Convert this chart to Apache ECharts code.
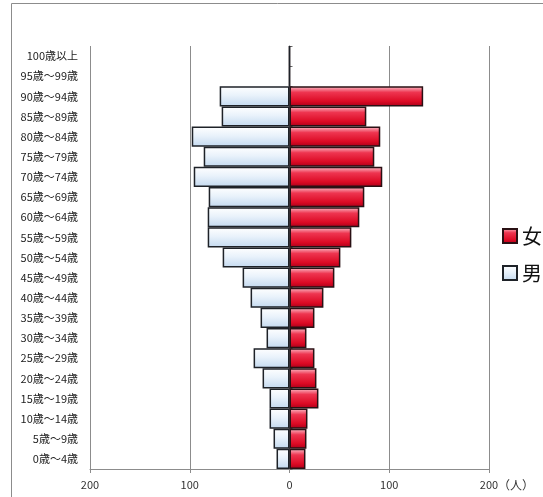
<!DOCTYPE html>
<html>
<head>
<meta charset="utf-8">
<script src="https://cdn.jsdelivr.net/npm/echarts@6/dist/echarts.min.js"></script>
<style>
  html, body { margin: 0; padding: 0; background: #fff; }
  #chart { width: 543px; height: 497px; }
</style>
</head>
<body>
<div id="chart"></div>
<script>
const ageGroups = [
  "0歳～4歳", "5歳～9歳", "10歳～14歳", "15歳～19歳", "20歳～24歳",
  "25歳～29歳", "30歳～34歳", "35歳～39歳", "40歳～44歳", "45歳～49歳",
  "50歳～54歳", "55歳～59歳", "60歳～64歳", "65歳～69歳", "70歳～74歳",
  "75歳～79歳", "80歳～84歳", "85歳～89歳", "90歳～94歳", "95歳～99歳",
  "100歳以上",
];
const male = [13, 16, 20, 20, 27, 36, 23, 29, 39, 47, 67, 82, 82, 81, 96, 86, 98, 68, 70, 0, 0];
const female = [16, 17, 18, 29, 27, 25, 17, 25, 34, 45, 51, 62, 70, 75, 93, 85, 91, 77, 134, 0, 0];
const xTicks = [-200, -100, 0, 100, 200];

const font = '"Noto Sans CJK JP", "Noto Sans", sans-serif';
const chart = echarts.init(document.getElementById("chart"));

const maleFill = new echarts.graphic.LinearGradient(0, 0, 0, 1, [
  { offset: 0, color: "#ffffff" },
  { offset: 0.45, color: "#e9f2fb" },
  { offset: 1, color: "#c3d9ef" },
]);
const femaleFill = new echarts.graphic.LinearGradient(0, 0, 0, 1, [
  { offset: 0, color: "#fbc0cb" },
  { offset: 0.3, color: "#ee3550" },
  { offset: 0.75, color: "#dc0a24" },
  { offset: 1, color: "#a8001a" },
]);

chart.setOption({
  animation: false,
  textStyle: { fontFamily: font },
  graphic: [
    {
      type: "rect",
      shape: { x: 11.5, y: 3.5, width: 700, height: 700 },
      style: { fill: "none", stroke: "#8c8c8c", lineWidth: 1 },
      silent: true,
    },
  ],
  legend: {
    data: ["女", "男"],
    orient: "vertical",
    left: 497,
    top: 221,
    icon: "rect",
    itemWidth: 14,
    itemHeight: 14,
    itemGap: 17,
    textStyle: { fontSize: 20, color: "#111", fontFamily: font },
  },
  grid: { left: 90, right: 54, top: 46, bottom: 28 },
  xAxis: {
    type: "value",
    min: xTicks[0],
    max: xTicks[xTicks.length - 1],
    interval: 100,
    name: "（人）",
    nameLocation: "end",
    nameGap: 27,
    nameMoveOverlap: false,
    nameTextStyle: {
      fontSize: 12,
      color: "#333",
      align: "center",
      verticalAlign: "top",
      padding: [10, 0, 0, 0],
    },
    axisLine: { show: true, lineStyle: { color: "#8c8c8c" } },
    axisTick: { show: true, length: 4, lineStyle: { color: "#8c8c8c" } },
    axisLabel: {
      fontSize: 11,
      color: "#333",
      margin: 10,
      formatter: (v) => String(Math.abs(v)),
    },
    splitLine: { show: true, lineStyle: { color: "#8c8c8c", width: 1 } },
  },
  yAxis: [
    {
      type: "category",
      data: ageGroups,
      axisLine: { show: false, onZero: false },
      axisTick: { show: false },
      axisLabel: { fontSize: 11, color: "#222", margin: 12 },
    },
    {
      type: "category",
      data: ageGroups,
      position: "right",
      axisLine: { show: true, onZero: true, lineStyle: { color: "#666" } },
      axisTick: { show: true, length: 3, lineStyle: { color: "#666" } },
      axisLabel: { show: false },
    },
  ],
  series: [
    {
      name: "女",
      type: "bar",
      stack: "pop",
      data: female,
      barCategoryGap: 0,
      itemStyle: { color: femaleFill, borderColor: "#2a1014", borderWidth: 1.5 },
    },
    {
      name: "男",
      type: "bar",
      stack: "pop",
      data: male.map((v) => -v),
      barCategoryGap: 0,
      itemStyle: { color: maleFill, borderColor: "#1e2228", borderWidth: 1.5 },
    },
  ],
});
</script>
</body>
</html>
